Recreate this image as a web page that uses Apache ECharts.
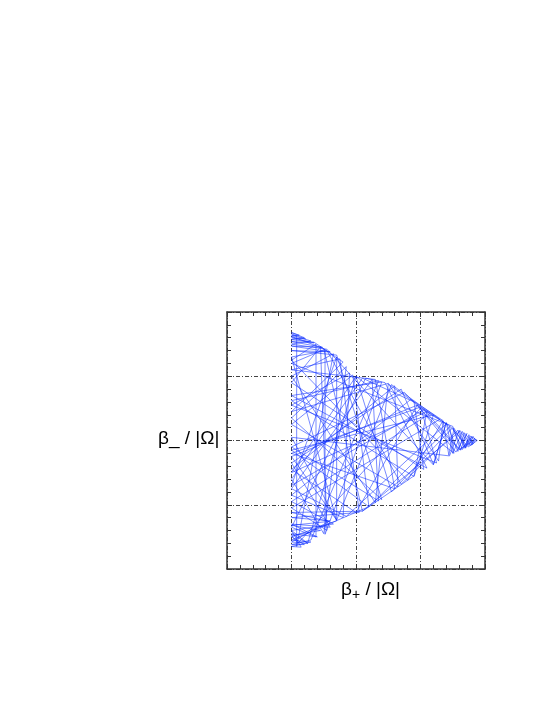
<!DOCTYPE html>
<html>
<head>
<meta charset="utf-8">
<script src="https://cdn.jsdelivr.net/npm/echarts@6/dist/echarts.min.js"></script>
<style>
  html, body { margin: 0; padding: 0; background: #fff; }
  #main { width: 545px; height: 705px; }
</style>
</head>
<body>
<div id="main"></div>
<script>
// trajectory in the (beta+, beta-) plane, in units of |Omega|
var betaPlus = [
    -1.00, -0.78, -1.00, -0.65, -1.00, -0.52, -1.00, -0.40, -1.00, -0.30,
    0.40, -1.00, -0.15, -0.50, -1.00, 0.10, 0.90, 1.05, -1.00, -0.55,
    -0.45, -1.00, 1.30, 0.55, -0.30, -1.00, 1.45, 1.60, 1.70, 1.75,
    1.80, 1.84, 1.78, 1.65, 1.50, 1.40, 1.20, 0.70, -1.00, -0.40,
    -1.00, -0.60, -1.00, -0.75, -1.00, -0.40, -1.00, 0.05, -0.25, -1.00,
    0.30, 0.60, -1.00, 1.00, 1.25, -1.00, -0.10, -0.20, -1.00, 0.85,
    1.35, 0.80, -1.00, -0.62, -0.62, -1.00, 0.15, 0.45, 1.10, -1.00,
    0.40, -0.48, -0.48, -1.00, 1.50, 1.62, 1.72, 1.55, 0.95, 0.00,
    -1.00, 0.60, 0.65, -1.00, -0.05, 0.20, -1.00, -0.70, -1.00, -0.85,
    -1.00, -0.35, -1.00, 1.15, 0.50, 0.30, -1.00, -0.35, -0.92, -0.92,
    -1.00, -0.70, -1.00, -0.45, 1.20, 1.40, 1.58, 1.68, 1.82, 1.86,
    1.60, 0.75, -1.00, 0.35, 0.25, -1.00, -0.15, 1.40, 1.00, -0.90,
    -1.00, -0.55, -1.00, -0.42, -1.00, 0.10, 1.62, 1.75, 1.82, 1.70,
    1.52, 1.44, 1.35, 1.28, 0.50, -1.00, -0.20, -0.65, -1.00, -0.80,
    -1.00, -0.88, -1.00, -0.50, 0.10, 0.90, 1.10, -1.00, 0.00, 0.55,
    1.50, 1.65, 1.78, 1.88, 1.74, 1.46, 0.20, -1.00, 1.20, 0.90,
    -1.00, 0.35, -0.70, -1.00, -0.80, -1.00, -0.30, -1.00, -0.45, 0.70,
    1.58, 1.68, 1.80, 1.62, 1.05, -1.00, -0.30, -0.30, -1.00, 0.95,
    1.45, 1.52, 0.00, -0.75, -1.00
];
var betaMinus = [
    1.66, 1.58, 1.60, 1.52, 1.54, 1.45, 1.47, 1.38, 1.40, 1.33,
    -0.92, 0.35, 1.15, -1.45, -0.60, 0.97, 0.60, -0.45, 0.90, 1.46,
    -1.40, -1.05, 0.33, 0.87, -1.24, 0.05, -0.24, 0.16, -0.12, 0.09,
    -0.07, 0.04, -0.08, 0.14, -0.20, 0.27, -0.37, 0.80, -0.35, -1.35,
    -1.30, -1.50, -1.45, -1.60, -1.58, -1.25, -1.20, -1.12, 1.27, 1.10,
    0.95, -0.75, -0.20, 0.52, -0.35, 0.55, 1.05, -1.20, -0.85, 0.64,
    0.31, -0.62, 1.25, 1.50, -1.50, -1.35, 0.97, 0.90, -0.43, 0.70,
    0.91, -1.46, 1.42, 1.20, 0.22, -0.15, 0.11, -0.18, 0.55, -1.12,
    -0.45, 0.85, -0.72, 0.25, 1.02, -1.03, -1.55, -1.58, -1.65, -1.66,
    -1.40, -1.30, -0.95, 0.42, 0.88, -0.97, 1.00, 1.35, -1.65, 1.63,
    1.64, 1.55, 1.50, 1.42, -0.38, 0.28, -0.17, 0.12, -0.05, 0.02,
    -0.14, 0.75, -0.10, -0.94, 0.95, -0.75, -1.18, 0.26, 0.50, -1.60,
    -1.48, -1.40, -1.32, -1.26, -1.12, -1.10, 0.15, -0.08, 0.06, -0.11,
    0.19, -0.23, 0.30, -0.32, 0.89, 0.45, 1.22, 1.53, 1.57, 1.60,
    1.68, 1.64, 1.62, 1.43, -1.10, -0.55, 0.45, -0.50, 1.00, -0.80,
    0.20, -0.14, 0.07, 0.00, -0.10, 0.22, -1.03, -0.15, 0.40, -0.56,
    0.62, 0.93, -1.55, -1.62, -1.62, -1.50, -1.25, 1.30, 1.40, -0.68,
    0.16, -0.12, 0.06, -0.15, 0.48, -0.70, 1.30, -1.24, -0.25, 0.55,
    0.23, -0.20, 1.00, -1.60, -1.40
];

var points = [];
for (var i = 0; i < betaPlus.length; i++) {
    points.push([betaPlus[i], betaMinus[i]]);
}

var gridDash = [4, 2, 1, 2];   // dash-dot grid lines
var frameColor = '#333';

function makeAxis(pos, withGrid) {
    return {
        type: 'value',
        position: pos,
        min: -2,
        max: 2,
        interval: 1,
        axisLine: { show: true, onZero: false, lineStyle: { color: frameColor, width: 1.5 } },
        axisTick: { show: true, inside: true, length: 5, lineStyle: { color: frameColor } },
        minorTick: { show: true, splitNumber: 5, length: 4, lineStyle: { color: frameColor } },
        axisLabel: { show: false },
        splitLine: { show: withGrid, lineStyle: { color: '#444', width: 1, type: gridDash } },
        minorSplitLine: { show: false }
    };
}

var option = {
    backgroundColor: '#fff',
    animation: false,
    grid: { left: 227, top: 312, width: 258, height: 257 },
    xAxis: [makeAxis('bottom', true), makeAxis('top', false)],
    yAxis: [makeAxis('left', true), makeAxis('right', false)],
    // axis titles
    graphic: [
        {
            type: 'text',
            left: 158,
            top: 429,
            style: { text: 'β_ / |Ω|', font: '19px "Liberation Sans"', fill: '#000' }
        },
        {
            type: 'text',
            left: 341,
            top: 580,
            style: {
                text: '{b|β}{s|+}{b| / |Ω|}',
                fill: '#000',
                rich: {
                    b: { font: '19px "Liberation Sans"', fill: '#000' },
                    s: { font: '14px "Liberation Sans"', fill: '#000', padding: [12, 0, 0, 0] }
                }
            }
        }
    ],
    series: [{
        type: 'line',
        data: points,
        showSymbol: false,
        symbol: 'none',
        lineStyle: { color: '#0f2eff', width: 0.7, opacity: 0.8 },
        z: 1
    }]
};

var myechart = echarts.init(document.getElementById('main'));
myechart.setOption(option);
</script>
</body>
</html>
